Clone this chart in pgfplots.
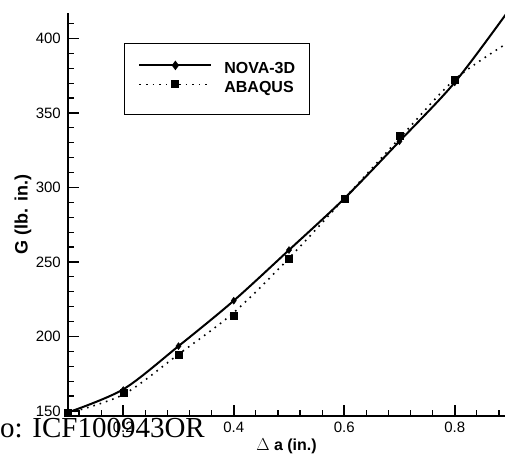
\documentclass[border=0pt]{standalone}
\usepackage{fontspec}
\setmainfont{Liberation Sans}
\newfontfamily\serifwm{Liberation Serif}
\usepackage{pgfplots}
\pgfplotsset{compat=1.18}

\begin{document}
\begin{tikzpicture}
\path[use as bounding box] (-68pt,-39pt) rectangle (437pt,416pt);
\begin{axis}[
    scale only axis,
    width=437pt, height=403pt,
    xmin=0.1, xmax=0.891, ymin=146.6, ymax=417.1,
    axis x line*=bottom, axis y line*=left,
    xtick pos=bottom, ytick pos=left,
    tick align=inside,
    axis line style={line width=2pt,-},
    xtick={0.2,0.4,0.6,0.8},
    xticklabels={0.2,0.4,0.6,0.8},
    minor xtick={0.12,0.16,0.24,0.28,0.32,0.36,0.44,0.48,0.52,0.56,0.64,0.68,0.72,0.76,0.84,0.88},
    ytick={150,200,250,300,350,400},
    minor ytick={160,170,180,190,210,220,230,240,260,270,280,290,310,320,330,340,360,370,380,390,410},
    major tick length=11pt, minor tick length=6pt,
    every major tick/.style={line width=1.6pt,black},
    every minor tick/.style={line width=1.2pt,black},
    /pgf/number format/assume math mode=true,
    ticklabel style={font=\fontsize{15}{18}\selectfont},
    yticklabel style={inner sep=0pt, anchor=east, xshift=-7pt},
    xticklabel style={inner sep=0pt, anchor=north, yshift=-6pt},
    xlabel={$\Delta$ \textbf{a (in.)}},
    ylabel={\textbf{G (lb. in.)}},
    xlabel style={at={(axis description cs:0.5,-0.0868)}, anchor=base, font=\fontsize{16}{19}\selectfont},
    ylabel style={at={(axis description cs:-0.1030,0.5)}, anchor=center, font=\fontsize{18}{21}\selectfont},
    legend style={at={(rel axis cs:0.1281,0.9256)}, anchor=north west,
        draw=black, line width=0.8pt, inner xsep=14pt, inner ysep=18.5pt,
        row sep=4pt,
        nodes={inner sep=0pt, text height=12pt, text depth=3pt},
        font=\fontsize{16}{19}\selectfont\bfseries},
    legend cell align=left,
    legend image code/.code={
        \draw[mark repeat=2,mark phase=2,#1] plot coordinates {(0pt,4pt) (36pt,4pt) (72pt,4pt)};
        \path (84pt,4pt);},
    clip=true,
]
  % legend entries
  \addlegendimage{black, line width=2pt, mark=diamond*, mark size=3.2pt}
  \addlegendentry{NOVA-3D}
  \addlegendimage{black, line width=1.6pt, dash pattern=on 1.6pt off 5pt, mark=square*, mark size=3.3pt, mark options={solid}}
  \addlegendentry{ABAQUS}

  % NOVA-3D fitted curve and points
  \addplot[black, line width=2pt, smooth, forget plot] coordinates {
    (0.1,149) (0.2,164.5) (0.3,193.5) (0.4,224) (0.5,258) (0.6,292.5) (0.7,331) (0.8,370.5) (0.9,420)};
  \addplot[only marks, mark=diamond*, mark size=3.5pt, black, forget plot] coordinates {
    (0.1,149) (0.2,164) (0.3,193.5) (0.4,224) (0.5,258) (0.6,292.5) (0.7,331) (0.8,370.5)};

  % ABAQUS fitted curve and points
  \addplot[black, line width=1.6pt, dash pattern=on 1.6pt off 5pt, smooth, forget plot] coordinates {
    (0.1,148.5) (0.2,161) (0.3,188) (0.4,216) (0.5,252.5) (0.6,292.5) (0.7,333) (0.8,372.5) (0.9,398)};
  \addplot[only marks, mark=square*, mark size=3.5pt, black, forget plot] coordinates {
    (0.1,148.5) (0.2,162.5) (0.3,187.5) (0.4,214) (0.5,252) (0.6,292.5) (0.7,334.5) (0.8,372.5)};
\end{axis}
\node[anchor=base west, inner sep=0pt, font=\serifwm\fontsize{29}{32}\selectfont] at (-68pt,-21pt) {o: ICF100943OR};
\end{tikzpicture}
\end{document}
